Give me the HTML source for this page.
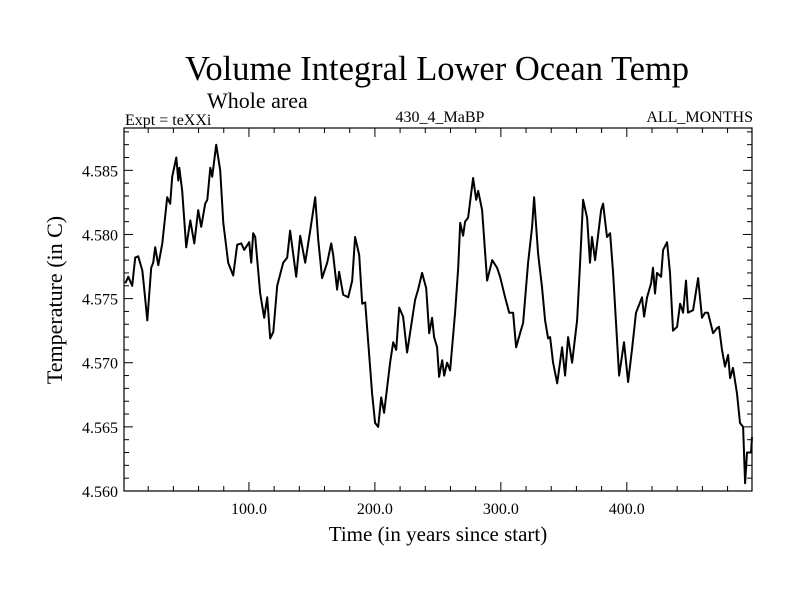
<!DOCTYPE html>
<html><head><meta charset="utf-8"><style>
body{margin:0;background:#fff}
svg text{font-family:"Liberation Serif",serif;fill:#000}
</style></head><body>
<svg id="chart" width="800" height="600" viewBox="0 0 800 600" xmlns="http://www.w3.org/2000/svg">
<rect width="800" height="600" fill="#fff"/>
<text x="437" y="80" font-size="34.5" text-anchor="middle">Volume Integral Lower Ocean Temp</text>
<text x="207" y="108" font-size="22">Whole area</text>
<text x="125" y="125" font-size="16">Expt = teXXi</text>
<text x="440" y="122" font-size="16" text-anchor="middle">430_4_MaBP</text>
<text x="753" y="122" font-size="16" text-anchor="end">ALL_MONTHS</text>
<text x="0" y="0" font-size="22" text-anchor="middle" transform="translate(62,300) rotate(-90)">Temperature (in C)</text>
<text x="438" y="541" font-size="21" text-anchor="middle">Time (in years since start)</text>
<g id="ticks"></g>
<g id="series"></g>
<rect x="124" y="128" width="628" height="363" fill="none" stroke="#000" stroke-width="1.2"/>
</svg>
<script>
const years=[1.8,4.2,7.3,9.7,12.1,15.3,16.9,19.3,22.4,24.0,25.6,28.0,31.2,35.1,37.5,39.1,42.3,43.9,44.7,47.0,50.2,53.4,56.6,59.7,62.1,65.3,66.9,69.3,70.8,74.0,77.2,79.6,83.5,87.5,90.7,93.9,96.2,100.2,101.8,103.4,105.0,108.9,112.1,114.5,116.9,119.3,122.4,127.2,130.4,132.7,137.5,140.7,144.7,148.6,152.6,155.0,158.1,162.1,165.3,166.9,170.0,171.6,174.8,178.8,182.0,184.3,187.5,189.9,192.3,197.8,200.2,202.6,205.0,207.3,212.1,214.5,216.9,219.3,222.4,225.6,228.8,231.9,234.3,237.5,240.7,243.1,245.4,247.0,249.4,251.0,253.4,255.0,257.3,259.7,263.7,266.1,267.7,270.0,271.6,274.0,278.0,280.4,282.0,285.1,289.1,293.1,297.0,299.4,303.4,306.6,309.7,312.1,315.3,317.7,321.6,324.8,326.4,329.6,332.7,335.1,337.5,339.1,341.5,344.7,348.6,351.0,353.4,356.6,360.5,362.9,365.3,368.5,370.8,372.4,374.8,379.6,381.2,384.3,386.7,389.1,393.9,397.8,401.0,404.2,407.3,408.9,412.1,413.7,416.1,419.3,420.8,422.4,424.0,427.2,428.8,432.0,434.3,436.7,439.9,442.3,444.7,447.0,448.6,452.6,456.6,459.7,462.1,464.5,468.5,471.6,473.2,475.6,478.0,480.4,482.0,484.3,487.5,489.9,492.3,493.9,495.4,498.6,499.4];
const temps=[4.5762,4.5767,4.5760,4.5782,4.5783,4.5772,4.5757,4.5733,4.5774,4.5778,4.5790,4.5776,4.5793,4.5829,4.5824,4.5845,4.5860,4.5842,4.5852,4.5834,4.5790,4.5811,4.5793,4.5819,4.5806,4.5824,4.5827,4.5852,4.5845,4.5870,4.5850,4.5809,4.5778,4.5768,4.5792,4.5793,4.5788,4.5794,4.5778,4.5801,4.5798,4.5754,4.5735,4.5751,4.5719,4.5724,4.5760,4.5778,4.5782,4.5803,4.5767,4.5799,4.5778,4.5803,4.5829,4.5796,4.5766,4.5778,4.5793,4.5784,4.5757,4.5771,4.5753,4.5751,4.5764,4.5798,4.5784,4.5746,4.5747,4.5676,4.5653,4.5650,4.5673,4.5661,4.5700,4.5716,4.5710,4.5743,4.5736,4.5708,4.5729,4.5749,4.5757,4.5770,4.5758,4.5723,4.5735,4.5720,4.5712,4.5689,4.5702,4.5690,4.5700,4.5694,4.5739,4.5774,4.5809,4.5799,4.5810,4.5813,4.5844,4.5827,4.5834,4.5819,4.5764,4.5780,4.5774,4.5767,4.5751,4.5739,4.5739,4.5712,4.5723,4.5731,4.5778,4.5806,4.5829,4.5785,4.5759,4.5733,4.5719,4.5720,4.5700,4.5684,4.5712,4.5690,4.5720,4.5700,4.5733,4.5778,4.5827,4.5813,4.5778,4.5798,4.5780,4.5819,4.5824,4.5798,4.5801,4.5770,4.5690,4.5716,4.5685,4.5711,4.5739,4.5743,4.5751,4.5736,4.5751,4.5762,4.5774,4.5754,4.5770,4.5767,4.5788,4.5794,4.5770,4.5725,4.5728,4.5746,4.5739,4.5764,4.5739,4.5741,4.5766,4.5735,4.5739,4.5739,4.5723,4.5727,4.5728,4.5710,4.5697,4.5706,4.5688,4.5696,4.5676,4.5653,4.5650,4.5606,4.5630,4.5630,4.5642];
const xTickValues=[100,200,300,400];
const xTickLabels=["100.0","200.0","300.0","400.0"];
const yTickValues=[4.560,4.565,4.570,4.575,4.580,4.585];
const yTickLabels=["4.560","4.565","4.570","4.575","4.580","4.585"];

const L=124,R=752,T=128,B=491,X0=0.8,X1=499.4,Y0=4.560,Y1=4.5883;
function xs(v){return L+(v-X0)/(X1-X0)*(R-L);}
function ys(v){return B-(v-Y0)/(Y1-Y0)*(B-T);}
const NS="http://www.w3.org/2000/svg";
const tg=document.getElementById('ticks');
function line(x1,y1,x2,y2,name){
  const l=document.createElementNS(NS,'line');
  l.setAttribute('x1',x1);l.setAttribute('y1',y1);l.setAttribute('x2',x2);l.setAttribute('y2',y2);
  l.setAttribute('stroke','#000');l.setAttribute('stroke-width','1');
  
  
  tg.appendChild(l);
}
function text(x,y,s,anchor,name){
  const t=document.createElementNS(NS,'text');
  t.setAttribute('x',x);t.setAttribute('y',y);t.setAttribute('font-size','16');t.setAttribute('text-anchor',anchor);
  t.textContent=s;
  
  
  tg.appendChild(t);
}
for(let v=20;v<X1;v+=20){
  const x=xs(v), len=(v%100===0)?9:5;
  line(x,B,x,B-len,'x-tick');
  line(x,T,x,T+len,'x-tick-top');
}
xTickValues.forEach((v,i)=>text(xs(v),514,xTickLabels[i],'middle','x-tick-label'));
for(let k=0;k<=28;k++){
  const v=Y0+k*0.001; if(v>Y1) break;
  const y=ys(v), len=(k%5===0)?9:5;
  line(L,y,L+len,y,'y-tick');
  line(R,y,R-len,y,'y-tick-right');
}
yTickValues.forEach((v,i)=>text(118,ys(v)+6,yTickLabels[i],'end','y-tick-label'));
const p=document.createElementNS(NS,'path');
p.setAttribute('d',years.map((yv,i)=>(i?'L':'M')+xs(yv).toFixed(1)+','+ys(temps[i]).toFixed(1)).join(''));
p.setAttribute('fill','none');p.setAttribute('stroke','#000');p.setAttribute('stroke-width','2');p.setAttribute('stroke-linejoin','round');


document.getElementById('series').appendChild(p);
</script>
</body></html>
